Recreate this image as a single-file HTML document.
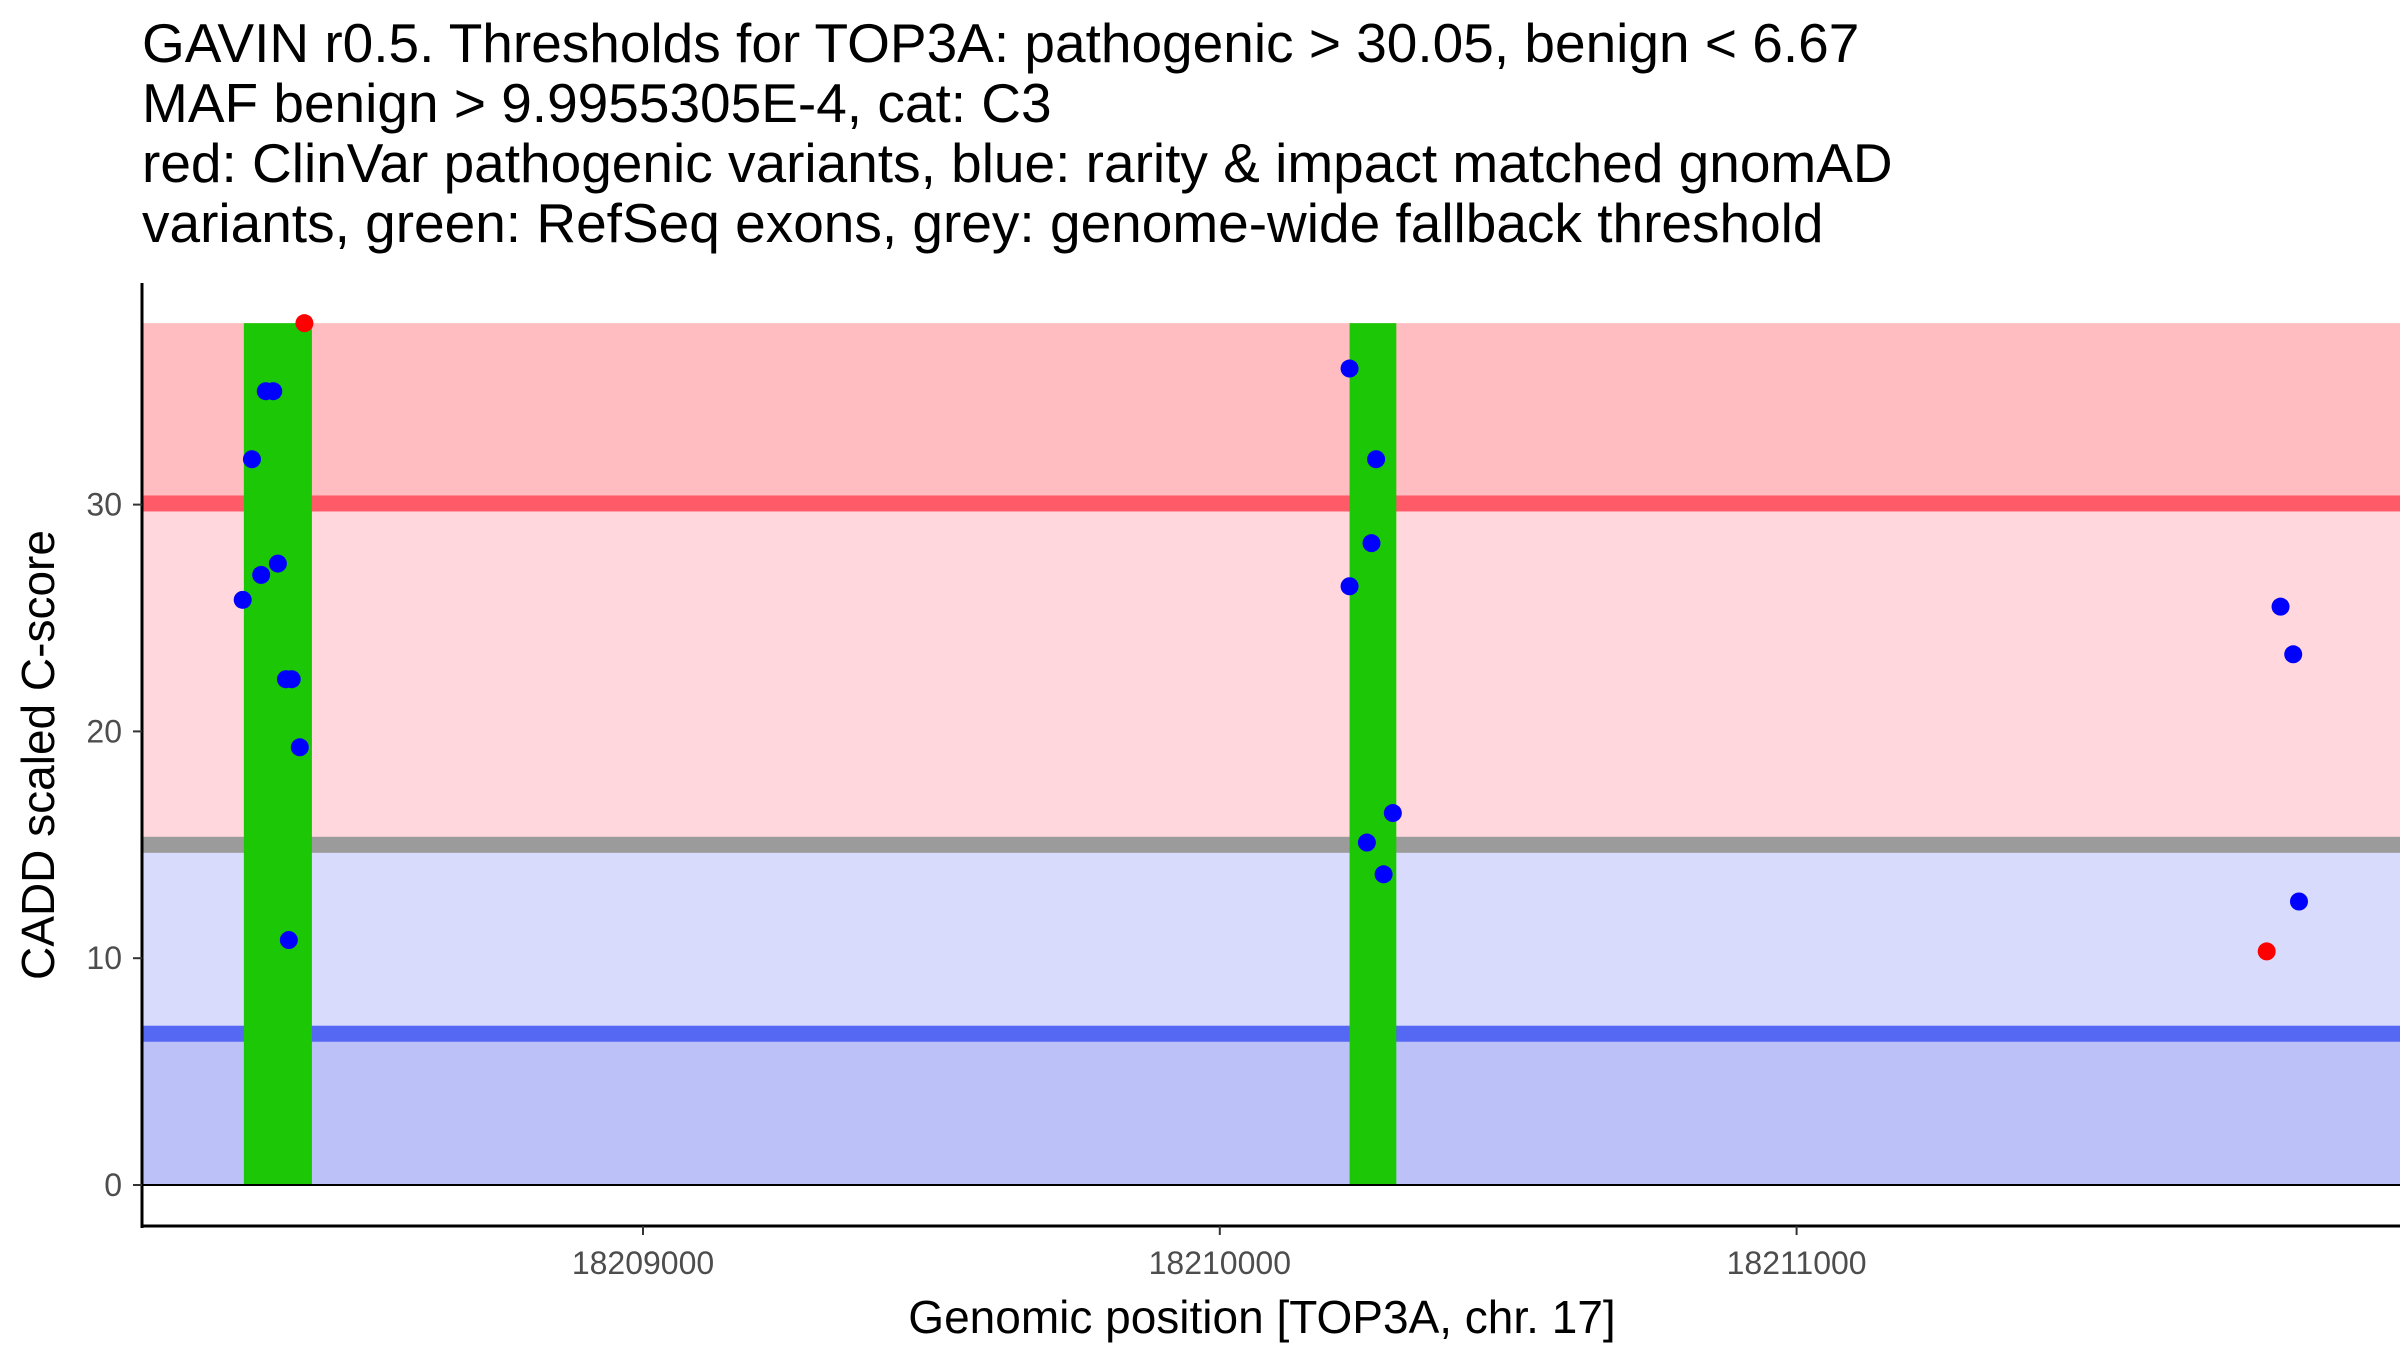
<!DOCTYPE html>
<html><head><meta charset="utf-8"><style>
body{margin:0;background:#fff;width:2400px;height:1350px;overflow:hidden}
svg{display:block;font-family:"Liberation Sans",sans-serif}
</style></head><body>
<svg id="chart" width="2400" height="1350" viewBox="0 0 2400 1350" xmlns="http://www.w3.org/2000/svg">
<g font-size="55" fill="#000">
<text x="142" y="62">GAVIN r0.5. Thresholds for TOP3A: pathogenic &gt; 30.05, benign &lt; 6.67</text>
<text x="142" y="122">MAF benign &gt; 9.9955305E-4, cat: C3</text>
<text x="142" y="182">red: ClinVar pathogenic variants, blue: rarity &amp; impact matched gnomAD</text>
<text x="142" y="242">variants, green: RefSeq exons, grey: genome-wide fallback threshold</text>
</g>
<g id="plot"></g>
<text x="1262" y="1333" font-size="46" text-anchor="middle">Genomic position [TOP3A, chr. 17]</text>
<text transform="translate(54,755) rotate(-90)" font-size="46" text-anchor="middle">CADD scaled C-score</text>
</svg>
<script>
const yTicks=[0,10,20,30];
const xTicks=[18209000,18210000,18211000];
const xTickLabels=["18209000","18210000","18211000"];
const pathoThreshold=30.05;
const benignThreshold=6.67;
const fallbackThreshold=15;
const yMax=38;
const exonStarts=[18208308,18210225];
const exonEnds=[18208426,18210306];
const blueX=[18208306,18208322,18208346,18208359,18208338,18208367,18208381,18208391,18208405,18208386,18210225,18210271,18210263,18210225,18210300,18210255,18210284,18211839,18211861,18211871];
const blueY=[25.8,32,35,35,26.9,27.4,22.3,22.3,19.3,10.8,36,32,28.3,26.4,16.4,15.1,13.7,25.5,23.4,12.5];
const redX=[18208413,18211815];
const redY=[38,10.3];

const X0=142,X1=2400,Y0px=1185;
const xs=v=>643+(v-18209000)*0.5768;
const ys=v=>Y0px-v*22.68;
const NS="http://www.w3.org/2000/svg";
const plot=document.getElementById('plot');
function mk(t,a){const e=document.createElementNS(NS,t);for(const k in a)e.setAttribute(k,a[k]);plot.appendChild(e);return e;}
let e;
e=mk('rect',{x:X0,y:ys(yMax),width:X1-X0,height:ys(pathoThreshold)-ys(yMax),fill:'#ffbcc1'});


e=mk('rect',{x:X0,y:ys(pathoThreshold),width:X1-X0,height:ys(fallbackThreshold)-ys(pathoThreshold),fill:'#ffd7dc'});


e=mk('rect',{x:X0,y:ys(fallbackThreshold),width:X1-X0,height:ys(benignThreshold)-ys(fallbackThreshold),fill:'#d8dbfc'});


e=mk('rect',{x:X0,y:ys(benignThreshold),width:X1-X0,height:ys(0)-ys(benignThreshold),fill:'#bcc2f8'});


e=mk('rect',{x:X0,y:ys(pathoThreshold)-8,width:X1-X0,height:16,fill:'#ff5a68'});


e=mk('rect',{x:X0,y:ys(fallbackThreshold)-8,width:X1-X0,height:16,fill:'#9b9b9b'});


e=mk('rect',{x:X0,y:ys(benignThreshold)-8,width:X1-X0,height:16,fill:'#5468f3'});


for(let i=0;i<exonStarts.length;i++){
 e=mk('rect',{x:xs(exonStarts[i]),y:ys(yMax),width:xs(exonEnds[i])-xs(exonStarts[i]),height:ys(0)-ys(yMax),fill:'#1cc706'});
 
 
}
e=mk('line',{x1:X0,x2:X1,y1:ys(0),y2:ys(0),stroke:'#000','stroke-width':2});


for(let i=0;i<blueX.length;i++){
 e=mk('circle',{cx:xs(blueX[i]),cy:ys(blueY[i]),r:9,fill:'#0000ff'});
 
 
}
for(let i=0;i<redX.length;i++){
 e=mk('circle',{cx:xs(redX[i]),cy:ys(redY[i]),r:9,fill:'#ff0000'});
 
 
}
e=mk('line',{x1:X0,x2:X0,y1:283,y2:1228,stroke:'#000','stroke-width':3});


e=mk('line',{x1:X0-1.5,x2:X1,y1:1226,y2:1226,stroke:'#000','stroke-width':3});


yTicks.forEach(t=>{
 e=mk('line',{x1:X0-9,x2:X0,y1:ys(t),y2:ys(t),stroke:'#333','stroke-width':2});
 
 
 e=mk('text',{x:X0-20,y:ys(t)+11,'font-size':32,fill:'#4d4d4d','text-anchor':'end'});
 e.textContent=String(t);
 
 
});
xTicks.forEach((t,i)=>{
 e=mk('line',{x1:xs(t),x2:xs(t),y1:1226,y2:1235,stroke:'#333','stroke-width':2});
 
 
 e=mk('text',{x:xs(t),y:1274,'font-size':32,fill:'#4d4d4d','text-anchor':'middle'});
 e.textContent=xTickLabels[i];
 
 
});
</script>
</body></html>
